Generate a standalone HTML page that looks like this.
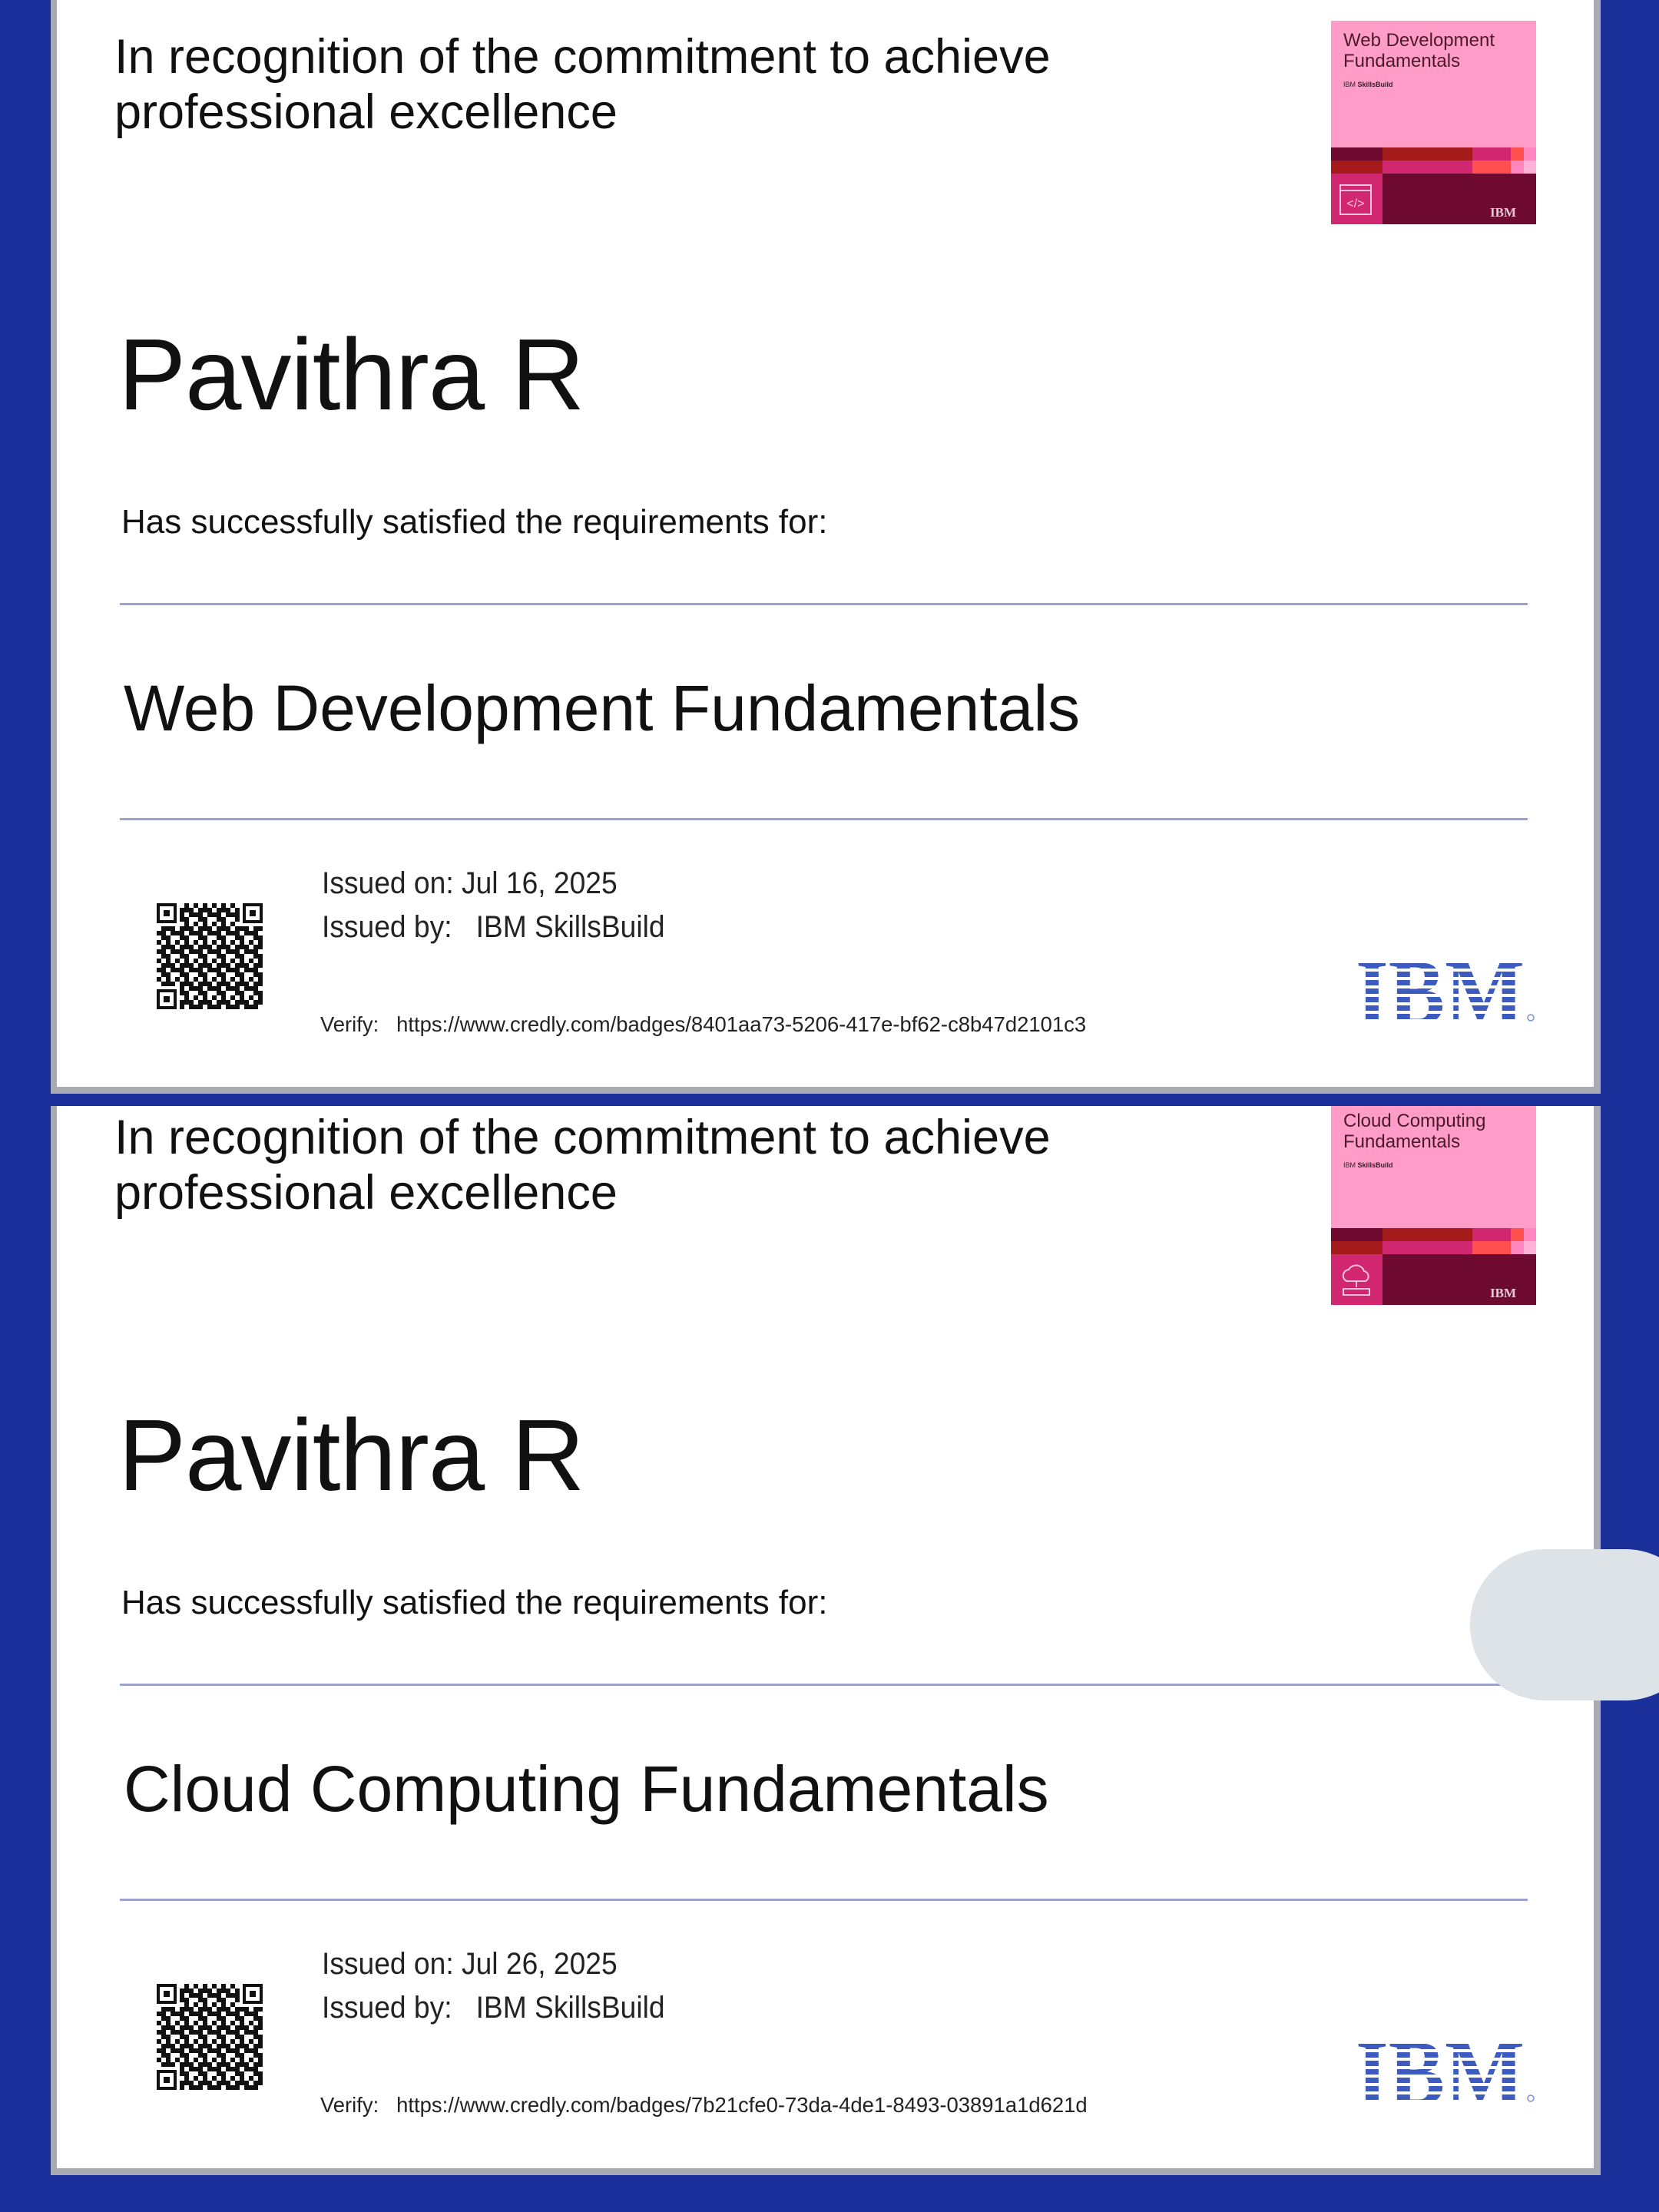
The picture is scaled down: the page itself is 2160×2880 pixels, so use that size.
<!DOCTYPE html>
<html><head><meta charset="utf-8"><style>
*{margin:0;padding:0;box-sizing:border-box}
body{width:2160px;height:2880px;background:#1a2f9a;position:relative;overflow:hidden;font-family:"Liberation Sans",sans-serif;color:#111}
.card{position:absolute;left:66px;width:2018px;background:#a9aab3;overflow:hidden}
.white{position:absolute;left:8px;top:0;right:9px;bottom:9px;background:#fff;overflow:hidden}
.in{position:absolute;left:-74px;width:2160px;height:1500px}
.a{position:absolute;white-space:nowrap}
.rec{left:149px;font-size:63px;line-height:72px;color:#111}
.name{left:154px;top:412px;font-size:132px;letter-spacing:-1px;color:#111}
.has{left:158px;top:655px;font-size:44px;color:#111}
.hr{position:absolute;left:156px;width:1833px;height:3px;background:#9aa3cf}
.title{left:161px;top:874px;font-size:84px;color:#111}
.iss{left:419px;font-size:40px;transform:scaleX(0.93);transform-origin:left;color:#222}
.ver{left:417px;top:1318px;font-size:28px;transform:scaleX(0.98);transform-origin:left;color:#222}
.badge{position:absolute;left:1733px;top:27px;width:267px;height:265px;background:#ff9dc8}
.bt{position:absolute;left:16px;top:12px;font-size:24px;line-height:27px;color:#4a1a2a}
.bs{position:absolute;left:16px;top:78px;font-size:9px;color:#3a1a2a}
.row{position:absolute;left:0;width:267px;height:17px;display:flex}
.row div{height:100%}
</style></head><body>

<!-- Card 1 -->
<div class="card" style="top:-20px;height:1444px">
 <div class="white"><div class="in" style="top:20px">
  <div class="a rec" style="top:38px">In recognition of the commitment to achieve<br>professional excellence</div>
  <div class="badge">
   <div class="bt">Web Development<br>Fundamentals</div>
   <div class="bs">IBM <b>SkillsBuild</b></div>
   <div class="row" style="top:165px"><div style="width:67px;background:#6e0a30"></div><div style="width:117px;background:#a51a1a"></div><div style="width:50px;background:#d12771"></div><div style="width:17px;background:#ff4f4f"></div><div style="width:16px;background:#ff86bf"></div></div>
   <div class="row" style="top:182px"><div style="width:67px;background:#a51a1a"></div><div style="width:117px;background:#d12771"></div><div style="width:50px;background:#ff4f4f"></div><div style="width:17px;background:#ff86bf"></div><div style="width:16px;background:#ffb3d7"></div></div>
   <div style="position:absolute;left:0;top:199px;width:67px;height:66px;background:#d12771"></div>
   <div style="position:absolute;left:67px;top:199px;width:200px;height:66px;background:#6e0a30"></div>
   <svg style="position:absolute;left:10px;top:212px" width="46" height="44"><rect x="2" y="2" width="40" height="38" fill="none" stroke="#ffc4dd" stroke-width="2"/><line x1="2" y1="9" x2="42" y2="9" stroke="#ffc4dd" stroke-width="2"/><text x="22" y="31" font-size="16" fill="#ffc4dd" text-anchor="middle" font-family="Liberation Sans">&lt;/&gt;</text></svg>
   <div style="position:absolute;left:207px;top:240px;font-family:'Liberation Serif',serif;font-weight:bold;font-size:17px;color:#e9c9d6">IBM</div>
  </div>
  <div class="a name">Pavithra R</div>
  <div class="a has">Has successfully satisfied the requirements for:</div>
  <div class="hr" style="top:785px"></div>
  <div class="a title">Web Development Fundamentals</div>
  <div class="hr" style="top:1065px"></div>
  <svg style="position:absolute;left:204px;top:1176px" width="138" height="138"><defs><pattern id="q" width="24" height="24" patternUnits="userSpaceOnUse"><rect width="24" height="24" fill="#fff"/><rect x="0" y="0" width="6" height="6" fill="#111"/><rect x="12" y="0" width="6" height="12" fill="#111"/><rect x="6" y="6" width="6" height="6" fill="#111"/><rect x="18" y="12" width="6" height="6" fill="#111"/><rect x="0" y="12" width="12" height="6" fill="#111"/><rect x="6" y="18" width="6" height="6" fill="#111"/><rect x="18" y="6" width="6" height="6" fill="#111"/><rect x="12" y="18" width="6" height="6" fill="#111"/></pattern></defs><rect width="138" height="138" fill="url(#q)"/><g fill="#fff"><rect width="30" height="30"/><rect x="108" width="30" height="30"/><rect y="108" width="30" height="30"/></g><g fill="none" stroke="#111" stroke-width="4"><rect x="2" y="2" width="22" height="22"/><rect x="114" y="2" width="22" height="22"/><rect x="2" y="114" width="22" height="22"/></g><g fill="#111"><rect x="9" y="9" width="8" height="8"/><rect x="121" y="9" width="8" height="8"/><rect x="9" y="121" width="8" height="8"/></g></svg>
  <div class="a iss" style="top:1128px">Issued on: Jul 16, 2025</div>
  <div class="a iss" style="top:1185px">Issued by:&nbsp;&nbsp; IBM SkillsBuild</div>
  <div class="a ver">Verify:&nbsp;&nbsp; https://www.credly.com/badges/8401aa73-5206-417e-bf62-c8b47d2101c3</div>
  <svg style="position:absolute;left:1765px;top:1243px" width="240" height="92"><text x="0" y="90" font-family="Liberation Serif,serif" font-weight="bold" font-size="122" textLength="220" lengthAdjust="spacingAndGlyphs" fill="#3d5bbf">IBM</text><g fill="#fff"><rect y="7" width="240" height="4"/><rect y="18" width="240" height="4"/><rect y="29" width="240" height="4"/><rect y="40" width="240" height="4"/><rect y="51" width="240" height="4"/><rect y="62" width="240" height="4"/><rect y="73" width="240" height="4"/><rect y="84" width="240" height="8"/></g><rect x="0" y="0" width="240" height="1" fill="#fff"/><circle cx="228" cy="82" r="4" fill="none" stroke="#7a8fd6" stroke-width="1.5"/></svg>
 </div></div>
</div>

<!-- Card 2 -->
<div class="card" style="top:1440px;height:1392px">
 <div class="white" style="top:0"><div class="in" style="top:-33px">
  <div class="a rec" style="top:38px">In recognition of the commitment to achieve<br>professional excellence</div>
  <div class="badge">
   <div class="bt">Cloud Computing<br>Fundamentals</div>
   <div class="bs">IBM <b>SkillsBuild</b></div>
   <div class="row" style="top:165px"><div style="width:67px;background:#6e0a30"></div><div style="width:117px;background:#a51a1a"></div><div style="width:50px;background:#d12771"></div><div style="width:17px;background:#ff4f4f"></div><div style="width:16px;background:#ff86bf"></div></div>
   <div class="row" style="top:182px"><div style="width:67px;background:#a51a1a"></div><div style="width:117px;background:#d12771"></div><div style="width:50px;background:#ff4f4f"></div><div style="width:17px;background:#ff86bf"></div><div style="width:16px;background:#ffb3d7"></div></div>
   <div style="position:absolute;left:0;top:199px;width:67px;height:66px;background:#d12771"></div>
   <div style="position:absolute;left:67px;top:199px;width:200px;height:66px;background:#6e0a30"></div>
   <svg style="position:absolute;left:10px;top:208px" width="46" height="50"><path d="M10 26 a8 8 0 0 1 3-15 a11 11 0 0 1 20 2 a7 7 0 0 1 2 13 z" fill="none" stroke="#ffc4dd" stroke-width="2"/><line x1="23" y1="26" x2="23" y2="34" stroke="#ffc4dd" stroke-width="2"/><rect x="6" y="36" width="34" height="8" fill="none" stroke="#ffc4dd" stroke-width="2"/></svg>
   <div style="position:absolute;left:207px;top:240px;font-family:'Liberation Serif',serif;font-weight:bold;font-size:17px;color:#e9c9d6">IBM</div>
  </div>
  <div class="a name">Pavithra R</div>
  <div class="a has">Has successfully satisfied the requirements for:</div>
  <div class="hr" style="top:785px"></div>
  <div class="a title">Cloud Computing Fundamentals</div>
  <div class="hr" style="top:1065px"></div>
  <svg style="position:absolute;left:204px;top:1176px" width="138" height="138"><rect width="138" height="138" fill="url(#q)"/><g fill="#fff"><rect width="30" height="30"/><rect x="108" width="30" height="30"/><rect y="108" width="30" height="30"/></g><g fill="none" stroke="#111" stroke-width="4"><rect x="2" y="2" width="22" height="22"/><rect x="114" y="2" width="22" height="22"/><rect x="2" y="114" width="22" height="22"/></g><g fill="#111"><rect x="9" y="9" width="8" height="8"/><rect x="121" y="9" width="8" height="8"/><rect x="9" y="121" width="8" height="8"/></g></svg>
  <div class="a iss" style="top:1128px">Issued on: Jul 26, 2025</div>
  <div class="a iss" style="top:1185px">Issued by:&nbsp;&nbsp; IBM SkillsBuild</div>
  <div class="a ver">Verify:&nbsp;&nbsp; https://www.credly.com/badges/7b21cfe0-73da-4de1-8493-03891a1d621d</div>
  <svg style="position:absolute;left:1765px;top:1243px" width="240" height="92"><text x="0" y="90" font-family="Liberation Serif,serif" font-weight="bold" font-size="122" textLength="220" lengthAdjust="spacingAndGlyphs" fill="#3d5bbf">IBM</text><g fill="#fff"><rect y="7" width="240" height="4"/><rect y="18" width="240" height="4"/><rect y="29" width="240" height="4"/><rect y="40" width="240" height="4"/><rect y="51" width="240" height="4"/><rect y="62" width="240" height="4"/><rect y="73" width="240" height="4"/><rect y="84" width="240" height="8"/></g><rect x="0" y="0" width="240" height="1" fill="#fff"/><circle cx="228" cy="82" r="4" fill="none" stroke="#7a8fd6" stroke-width="1.5"/></svg>
 </div></div>
</div>

<div style="position:absolute;left:1914px;top:2017px;width:300px;height:197px;border-radius:98px;background:#dde3e6"></div>
</body></html>
